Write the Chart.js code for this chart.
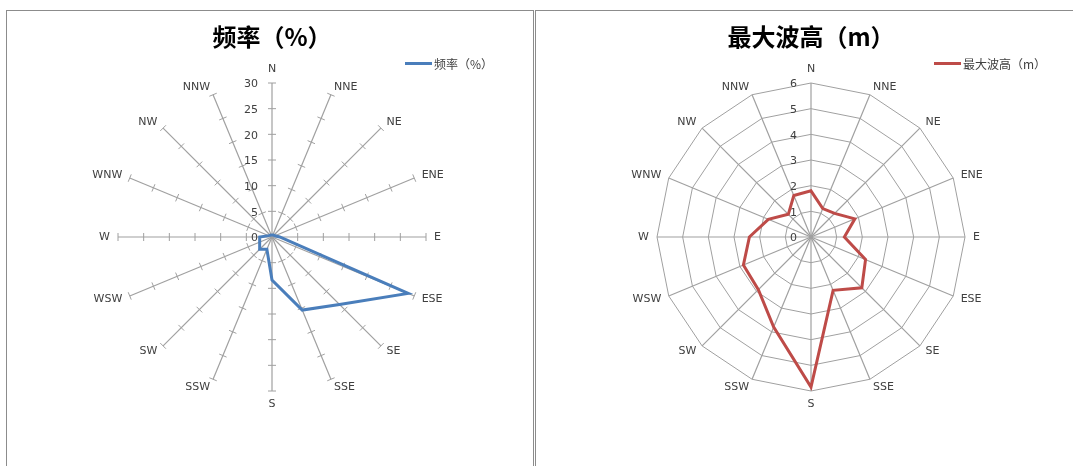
<!DOCTYPE html>
<html>
<head>
<meta charset="utf-8">
<script src="https://cdn.jsdelivr.net/npm/chart.js@4"></script>
<style>
  body { margin: 0; background: #fff; width: 1073px; height: 466px; overflow: hidden; position: relative; }
  .panel { position: absolute; top: 10px; height: 470px; border: 1px solid #8c8c8c; background: #fff; }
  #panelFreq { left: 6px; width: 526px; }
  #panelWave { left: 535px; width: 545px; }
  .panel canvas { position: absolute; left: 0; top: 0; }
  .legend { position: absolute; top: 44px; font: 12px "Noto Sans CJK SC", sans-serif; color: #404040; white-space: nowrap; display: flex; align-items: center; }
  .legend .swatch { display: inline-block; width: 27px; height: 3px; margin-right: 2px; }
</style>
</head>
<body>
<div class="panel" id="panelFreq">
  <canvas id="freqChart" width="526" height="460"></canvas>
  <div class="legend" id="freqLegend" style="left:398px"></div>
</div>
<div class="panel" id="panelWave">
  <canvas id="waveChart" width="545" height="460"></canvas>
  <div class="legend" id="waveLegend" style="left:398px"></div>
</div>
<script>
// 16 compass directions, clockwise from north
const directions = ["N", "NNE", "NE", "ENE", "E", "ESE", "SE", "SSE", "S", "SSW", "SW", "WSW", "W", "WNW", "NW", "NNW"]

// 频率 (%) per direction
const frequencyPct = [0.4, 0.4, 0.5, 0.6, 1.5, 28.7, 18.6, 15.4, 8.4, 2.6, 3.4, 2.6, 2.4, 0.7, 0.5, 0.4]
// 最大波高 (m) per direction
const maxWaveHeight = [1.8, 1.2, 1.3, 1.85, 1.3, 2.3, 2.8, 2.25, 5.85, 3.8, 2.9, 2.85, 2.4, 1.8, 1.25, 1.75]

const freqTitle = "频率（%）"
const waveTitle = "最大波高（m）"

const AXIS_GRAY = "#a0a0a0"
const TEXT_GRAY = "#404040"
const LABEL_FONT = "11px 'DejaVu Sans', sans-serif"

// Excel-style radar axis: direction labels centred beside each spoke end,
// value labels left of the N spoke, optional tick marks across every spoke
const radialAxis = {
  id: "radialAxis",
  beforeDatasetsDraw(chart, args, opts) {
    const r = chart.scales.r
    const ctx = chart.ctx
    const labels = chart.data.labels
    ctx.save()

    if (opts.tickMarks) {
      ctx.strokeStyle = AXIS_GRAY
      ctx.lineWidth = 1
      ctx.beginPath()
      labels.forEach((_, i) => {
        const a = r.getIndexAngle(i) - Math.PI / 2
        const nx = -Math.sin(a), ny = Math.cos(a)
        for (const t of r.ticks) {
          if (t.value === r.min) continue
          const p = r.getPointPositionForValue(i, t.value)
          ctx.moveTo(p.x - nx * 4, p.y - ny * 4)
          ctx.lineTo(p.x + nx * 4, p.y + ny * 4)
        }
      })
      ctx.stroke()
    }

    ctx.font = LABEL_FONT
    ctx.fillStyle = TEXT_GRAY

    labels.forEach((text, i) => {
      const p = r.getPointPosition(i, r.drawingArea + 8)
      const deg = Math.round(r.getIndexAngle(i) * 180 / Math.PI) % 360
      ctx.textAlign = deg === 0 || deg === 180 ? "center" : deg < 180 ? "left" : "right"
      ctx.textBaseline = deg === 0 ? "bottom" : deg === 180 ? "top" : "middle"
      ctx.fillText(text, p.x, p.y)
    })

    ctx.textAlign = "right"
    ctx.textBaseline = "middle"
    for (const t of r.ticks) {
      const d = r.getDistanceFromCenterForValue(t.value)
      ctx.fillText(t.label, r.xCenter - 14, r.yCenter - d + 1.5)
    }
    ctx.restore()
  },
}

function radarChart(canvasId, label, data, color, max, step, polygonGrid, padding) {
  return new Chart(document.getElementById(canvasId), {
    type: "radar",
    data: {
      labels: directions,
      datasets: [{
        label,
        data,
        borderColor: color,
        backgroundColor: color,
        borderWidth: 3,
        borderJoinStyle: "miter",
        pointRadius: 0,
        fill: false,
        tension: 0,
      }],
    },
    options: {
      responsive: false,
      animation: false,
      layout: { padding },
      scales: {
        r: {
          min: 0,
          max,
          ticks: { stepSize: step, display: false },
          grid: { display: polygonGrid, color: AXIS_GRAY, lineWidth: 1 },
          angleLines: { color: AXIS_GRAY, lineWidth: 1.2 },
          pointLabels: { display: false },
        },
      },
      plugins: {
        legend: { display: false },
        tooltip: { enabled: false },
        title: {
          display: true,
          text: label,
          color: "#000",
          font: { family: "'Noto Sans CJK SC', sans-serif", size: 24, weight: "bold", lineHeight: 1 },
          padding: { top: 14, bottom: 34 },
        },
        radialAxis: { tickMarks: !polygonGrid },
      },
    },
    plugins: [radialAxis],
  })
}

function htmlLegend(chart, el) {
  const ds = chart.data.datasets[0]
  const swatch = document.createElement("span")
  swatch.className = "swatch"
  swatch.style.background = ds.borderColor
  el.appendChild(swatch)
  el.appendChild(document.createTextNode(ds.label))
}

const freqChart = radarChart("freqChart", freqTitle, frequencyPct, "#4a7ebb", 30, 5, false,
  { left: 111, right: 107, top: 0, bottom: 80 })
const waveChart = radarChart("waveChart", waveTitle, maxWaveHeight, "#be4b48", 6, 1, true,
  { left: 121, right: 116, top: 0, bottom: 80 })

htmlLegend(freqChart, document.getElementById("freqLegend"))
htmlLegend(waveChart, document.getElementById("waveLegend"))
</script>
</body>
</html>
